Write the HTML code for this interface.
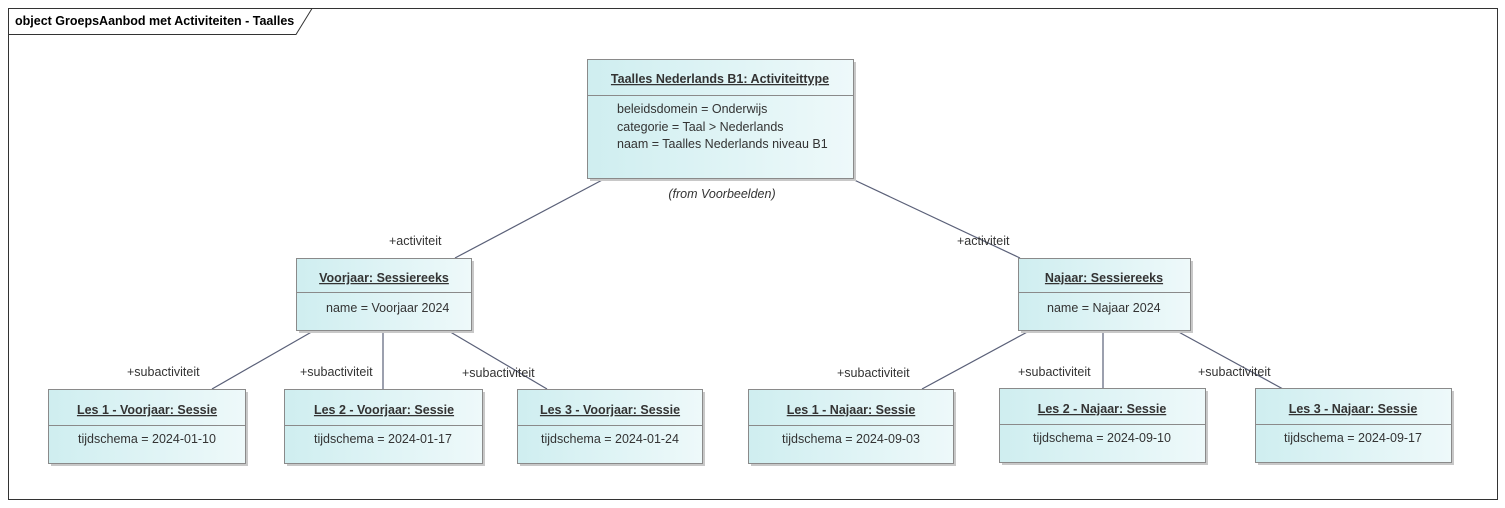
<!DOCTYPE html>
<html><head><meta charset="utf-8"><style>
html,body{margin:0;padding:0;background:#fff;width:1505px;height:508px;overflow:hidden}
text{font-family:"Liberation Sans",sans-serif;font-size:12.5px;fill:#333}
.h{font-weight:bold;text-decoration:underline}
</style></head><body>
<svg width="1505" height="508" xmlns="http://www.w3.org/2000/svg">
<defs>
<linearGradient id="g" x1="0" x2="1" y1="0" y2="0">
<stop offset="0" stop-color="#cfeef0"/><stop offset="1" stop-color="#eef9fa"/>
</linearGradient>
</defs>
<rect x="8.5" y="8.5" width="1489" height="491" fill="none" stroke="#333"/>
<path d="M8.5 34.5 H296 L312 8.5" fill="none" stroke="#333"/>
<text x="15" y="25" style="font-size:12.5px;fill:#000;font-weight:bold">object GroepsAanbod met Activiteiten - Taalles</text>
<g stroke="#5a6078" stroke-width="1.2" fill="none">
<line x1="606" y1="178" x2="455" y2="258"/>
<line x1="850" y1="178" x2="1020" y2="258"/>
<line x1="315" y1="330" x2="212" y2="389"/>
<line x1="383" y1="330" x2="383" y2="389"/>
<line x1="447" y1="330" x2="547" y2="389"/>
<line x1="1031" y1="330" x2="922" y2="389"/>
<line x1="1103" y1="330" x2="1103" y2="389"/>
<line x1="1175" y1="330" x2="1283" y2="389"/>
</g>
<g>
<rect x="590" y="62" width="266" height="119" fill="#c8c8c8"/>
<rect x="587.5" y="59.5" width="266" height="119" fill="url(#g)" stroke="#8a8a8a"/>
<line x1="587.5" y1="95.5" x2="853.5" y2="95.5" stroke="#8a8a8a"/>
<text x="720" y="83" text-anchor="middle" class="h">Taalles Nederlands B1: Activiteittype</text>
<text x="617" y="113">beleidsdomein = Onderwijs</text>
<text x="617" y="131">categorie = Taal &gt; Nederlands</text>
<text x="617" y="148">naam = Taalles Nederlands niveau B1</text>
<text x="722" y="198" text-anchor="middle" font-style="italic">(from Voorbeelden)</text>

<rect x="299" y="261" width="175" height="72" fill="#c8c8c8"/>
<rect x="296.5" y="258.5" width="175" height="72" fill="url(#g)" stroke="#8a8a8a"/>
<line x1="296.5" y1="292.5" x2="471.5" y2="292.5" stroke="#8a8a8a"/>
<text x="384" y="282" text-anchor="middle" class="h">Voorjaar: Sessiereeks</text>
<text x="326" y="312">name = Voorjaar 2024</text>

<rect x="1021" y="261" width="172" height="72" fill="#c8c8c8"/>
<rect x="1018.5" y="258.5" width="172" height="72" fill="url(#g)" stroke="#8a8a8a"/>
<line x1="1018.5" y1="292.5" x2="1190.5" y2="292.5" stroke="#8a8a8a"/>
<text x="1104" y="282" text-anchor="middle" class="h">Najaar: Sessiereeks</text>
<text x="1047" y="312">name = Najaar 2024</text>
</g>
<g>
<rect x="51" y="392" width="197" height="74" fill="#c8c8c8"/>
<rect x="48.5" y="389.5" width="197" height="74" fill="url(#g)" stroke="#8a8a8a"/>
<line x1="48.5" y1="425.5" x2="245.5" y2="425.5" stroke="#8a8a8a"/>
<text x="147" y="414" text-anchor="middle" class="h">Les 1 - Voorjaar: Sessie</text>
<text x="147" y="443" text-anchor="middle">tijdschema = 2024-01-10</text>

<rect x="287" y="392" width="198" height="74" fill="#c8c8c8"/>
<rect x="284.5" y="389.5" width="198" height="74" fill="url(#g)" stroke="#8a8a8a"/>
<line x1="284.5" y1="425.5" x2="482.5" y2="425.5" stroke="#8a8a8a"/>
<text x="384" y="414" text-anchor="middle" class="h">Les 2 - Voorjaar: Sessie</text>
<text x="383" y="443" text-anchor="middle">tijdschema = 2024-01-17</text>

<rect x="520" y="392" width="185" height="74" fill="#c8c8c8"/>
<rect x="517.5" y="389.5" width="185" height="74" fill="url(#g)" stroke="#8a8a8a"/>
<line x1="517.5" y1="425.5" x2="702.5" y2="425.5" stroke="#8a8a8a"/>
<text x="610" y="414" text-anchor="middle" class="h">Les 3 - Voorjaar: Sessie</text>
<text x="610" y="443" text-anchor="middle">tijdschema = 2024-01-24</text>

<rect x="751" y="392" width="205" height="74" fill="#c8c8c8"/>
<rect x="748.5" y="389.5" width="205" height="74" fill="url(#g)" stroke="#8a8a8a"/>
<line x1="748.5" y1="425.5" x2="953.5" y2="425.5" stroke="#8a8a8a"/>
<text x="851" y="414" text-anchor="middle" class="h">Les 1 - Najaar: Sessie</text>
<text x="851" y="443" text-anchor="middle">tijdschema = 2024-09-03</text>

<rect x="1002" y="391" width="206" height="74" fill="#c8c8c8"/>
<rect x="999.5" y="388.5" width="206" height="74" fill="url(#g)" stroke="#8a8a8a"/>
<line x1="999.5" y1="424.5" x2="1205.5" y2="424.5" stroke="#8a8a8a"/>
<text x="1102" y="413" text-anchor="middle" class="h">Les 2 - Najaar: Sessie</text>
<text x="1102" y="442" text-anchor="middle">tijdschema = 2024-09-10</text>

<rect x="1258" y="391" width="196" height="74" fill="#c8c8c8"/>
<rect x="1255.5" y="388.5" width="196" height="74" fill="url(#g)" stroke="#8a8a8a"/>
<line x1="1255.5" y1="424.5" x2="1451.5" y2="424.5" stroke="#8a8a8a"/>
<text x="1353" y="413" text-anchor="middle" class="h">Les 3 - Najaar: Sessie</text>
<text x="1353" y="442" text-anchor="middle">tijdschema = 2024-09-17</text>
</g>
<text x="389" y="245">+activiteit</text>
<text x="957" y="245">+activiteit</text>
<text x="127" y="376">+subactiviteit</text>
<text x="300" y="376">+subactiviteit</text>
<text x="462" y="377">+subactiviteit</text>
<text x="837" y="377">+subactiviteit</text>
<text x="1018" y="376">+subactiviteit</text>
<text x="1198" y="376">+subactiviteit</text>
</svg>
</body></html>
